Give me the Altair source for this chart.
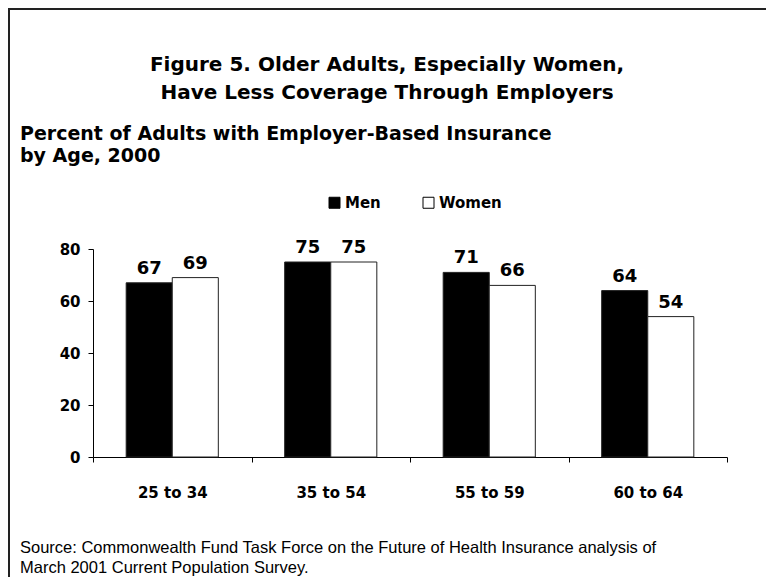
import altair as alt
import pandas as pd

categories = ["25 to 34", "35 to 54", "55 to 59", "60 to 64"]
men = [67, 75, 71, 64]
women = [69, 75, 66, 54]
groups = ["Men", "Women"]
y_ticks = [0, 20, 40, 60, 80]

title_lines = ["Figure 5. Older Adults, Especially Women,", "Have Less Coverage Through Employers"]
subtitle_lines = ["Percent of Adults with Employer-Based Insurance", "by Age, 2000"]
source_lines = [
    "Source: Commonwealth Fund Task Force on the Future of Health Insurance analysis of",
    "March 2001 Current Population Survey.",
]

rows = []
for c, m, w in zip(categories, men, women):
    rows.append({"age": c, "sex": "Men", "pct": m})
    rows.append({"age": c, "sex": "Women", "pct": w})
df = pd.DataFrame(rows)
one = pd.DataFrame({"k": [0]})

W, H = 634, 208
FONT = "DejaVu Sans"
ARIAL = "Liberation Sans"

x_enc = alt.X(
    "age:N", sort=categories, title=None,
    scale=alt.Scale(paddingInner=0, paddingOuter=0),
    axis=alt.Axis(labelAngle=0, tickBand="extent", tickSize=5, labelPadding=23,
                  labelFont=FONT, labelFontWeight="bold", labelFontSize=15,
                  labelColor="black", domainColor="black", tickColor="black",
                  grid=False),
)
xo_enc = alt.XOffset("sex:N", sort=groups, scale=alt.Scale(paddingOuter=0.72, paddingInner=0))
y_enc = alt.Y(
    "pct:Q", title=None,
    scale=alt.Scale(domain=[0, 80], nice=False),
    axis=alt.Axis(values=y_ticks, tickSize=5, labelPadding=8, grid=False,
                  labelFont=FONT, labelFontWeight="bold", labelFontSize=15,
                  labelColor="black", domainColor="black", tickColor="black"),
)

bars = alt.Chart(df).mark_bar(stroke="#222", strokeWidth=1).encode(
    x=x_enc, xOffset=xo_enc, y=y_enc,
    fill=alt.Fill("sex:N", sort=groups,
                  scale=alt.Scale(domain=groups, range=["black", "white"]),
                  legend=alt.Legend(title=None, orient="none", legendX=234, legendY=-54,
                                    direction="horizontal", symbolType="square",
                                    symbolSize=121, symbolStrokeColor="black",
                                    symbolStrokeWidth=1, labelFont=FONT,
                                    labelFontWeight="bold", labelFontSize=15,
                                    labelColor="black", columnPadding=40, labelOffset=3)),
)

labels = alt.Chart(df).mark_text(
    dy=-9, font=FONT, fontWeight="bold", fontSize=18, color="black", baseline="alphabetic"
).encode(x=x_enc, xOffset=xo_enc, y=y_enc, text="pct:Q")

title = alt.Chart(one).mark_text(
    text=title_lines, font=FONT, fontWeight="bold", fontSize=20, lineHeight=28,
    align="center", baseline="alphabetic", color="black"
).encode(x=alt.value(294), y=alt.value(-178))

subtitle = alt.Chart(one).mark_text(
    text=subtitle_lines, font=FONT, fontWeight="bold", fontSize=19, lineHeight=22,
    align="left", baseline="alphabetic", color="black"
).encode(x=alt.value(-73), y=alt.value(-109))

source = alt.Chart(one).mark_text(
    text=source_lines, font=ARIAL, fontSize=16.5, lineHeight=20,
    align="left", baseline="alphabetic", color="black"
).encode(x=alt.value(-73), y=alt.value(304))

border = alt.Chart(one).mark_rect(filled=False, stroke="#222", strokeWidth=2).encode(
    x=alt.value(-84), y=alt.value(-240), x2=alt.value(800), y2=alt.value(500)
)

chart = alt.layer(border, bars, labels, title, subtitle, source).properties(
    width=W, height=H,
    autosize=alt.AutoSizeParams(type="none"),
    padding={"left": 85, "top": 241, "right": 39, "bottom": 120},
).configure_view(stroke=None)

chart.save("out.html", embed_options={"renderer": "svg", "actions": False})
